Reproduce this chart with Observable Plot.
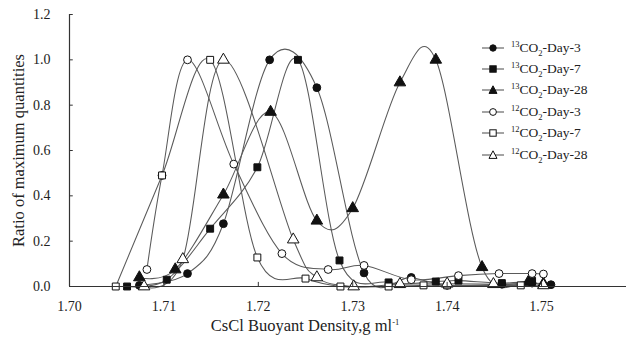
<!DOCTYPE html>
<html><head><meta charset="utf-8">
<script src="https://cdn.jsdelivr.net/npm/d3@7"></script>
<script src="https://cdn.jsdelivr.net/npm/@observablehq/plot@0.6"></script>
<style>
body{margin:0;background:#fff;}
#wrap{position:relative;width:630px;height:346px;font-family:"Liberation Serif","Times New Roman",serif;}
#legend{position:absolute;left:482px;top:37px;font-size:13.5px;color:#222;}
.row{height:21.4px;display:flex;align-items:center;white-space:nowrap;}
.row svg{margin-right:7px;}
sup,sub{font-size:8.5px;line-height:0;}
</style></head><body>
<div id="wrap"><div id="legend"></div></div>
<script>
// series names
const seriesNames = ["13CO2-Day-3","13CO2-Day-7","13CO2-Day-28","12CO2-Day-3","12CO2-Day-7","12CO2-Day-28"];
const seriesLabels = ["<sup>13</sup>CO<sub>2</sub>-Day-3","<sup>13</sup>CO<sub>2</sub>-Day-7","<sup>13</sup>CO<sub>2</sub>-Day-28","<sup>12</sup>CO<sub>2</sub>-Day-3","<sup>12</sup>CO<sub>2</sub>-Day-7","<sup>12</sup>CO<sub>2</sub>-Day-28"];
// density values (g/ml) and ratios for each series
const c13d3_x = [1.7074,1.7125,1.7163,1.7212,1.7262,1.7312,1.7362,1.7400,1.7458,1.7490,1.7510];
const c13d3_y = [0.005,0.057,0.277,1.00,0.877,0.060,0.040,0.005,0.010,0.015,0.008];
const c13d7_x = [1.7061,1.7103,1.7149,1.7199,1.7242,1.7286,1.7338,1.7388,1.7412,1.7458,1.7490];
const c13d7_y = [0.000,0.030,0.255,0.526,1.00,0.115,0.018,0.022,0.026,0.015,0.025];
const c13d28_x = [1.7074,1.7112,1.7163,1.7213,1.7262,1.7300,1.7350,1.7388,1.7437,1.7486,1.7502];
const c13d28_y = [0.040,0.075,0.405,0.770,0.290,0.345,0.900,1.00,0.085,0.020,0.012];
const c12d3_x = [1.7082,1.7098,1.7125,1.7174,1.7225,1.7274,1.7312,1.7362,1.7412,1.7455,1.7490,1.7502];
const c12d3_y = [0.075,0.490,1.00,0.540,0.145,0.075,0.093,0.030,0.048,0.057,0.057,0.055];
const c12d7_x = [1.7049,1.7098,1.7149,1.7199,1.7250,1.7287,1.7338,1.7375,1.7400,1.7478];
const c12d7_y = [0.000,0.490,1.00,0.128,0.035,0.000,0.000,0.005,0.005,0.005];
const c12d28_x = [1.7079,1.7120,1.7163,1.7237,1.7262,1.7301,1.7350,1.7400,1.7449,1.7502];
const c12d28_y = [0.000,0.120,1.00,0.207,0.040,0.000,0.010,0.012,0.010,0.005];
const xTicks = [1.70,1.71,1.72,1.73,1.74,1.75];
const yTicks = [0,0.2,0.4,0.6,0.8,1.0,1.2];
const symbols = ["circle","square","triangle","circle","square","triangle"];
const fills = ["#111","#111","#111","white","white","white"];

const xs = [c13d3_x,c13d7_x,c13d28_x,c12d3_x,c12d7_x,c12d28_x];
const ys = [c13d3_y,c13d7_y,c13d28_y,c12d3_y,c12d7_y,c12d28_y];
const data = [];
seriesNames.forEach((s,i)=>xs[i].forEach((x,j)=>data.push({series:s,i,x,y:ys[i][j]})));

const XMIN=1.70, XMAX=1.7590;
const lineColor="#5a5a5a";
const marks = [];
seriesNames.forEach((s,i)=>{
  marks.push(Plot.line(data.filter(d=>d.i===i),{x:"x",y:"y",stroke:lineColor,strokeWidth:1.05,curve:"cardinal",tension:0}));
});
seriesNames.forEach((s,i)=>{
  marks.push(Plot.dot(data.filter(d=>d.i===i),{x:"x",y:"y",symbol:()=>symbols[i],r:i%3===2?4.3:3.9,fill:fills[i],stroke:"#111",strokeWidth:1}));
});
marks.push(Plot.ruleY([0],{x1:XMIN,x2:XMAX,stroke:"#333",strokeWidth:1.2}));
marks.push(Plot.ruleX([XMIN],{y1:0,y2:1.2,stroke:"#333",strokeWidth:1.2}));
marks.push(Plot.ruleX(xTicks,{x:d=>d,y1:0,y2:0.018,stroke:"#333"}));
marks.push(Plot.ruleY(yTicks,{y:d=>d,x1:XMIN,x2:XMIN+0.0004,stroke:"#333"}));
marks.push(Plot.axisX({ticks:xTicks,tickSize:0,tickPadding:15,tickFormat:d3.format(".2f"),fontSize:14,label:null}));
marks.push(Plot.axisY({ticks:yTicks,tickSize:0,tickPadding:19,tickFormat:d3.format(".1f"),fontSize:14,label:null}));
marks.push(Plot.axisY({ticks:[],tickSize:0,fontSize:16.5,label:"Ratio of maximum quantities",labelAnchor:"center",labelArrow:"none",labelOffset:57}));

const plotRight = 69 + Math.round((XMAX-XMIN)*9440);
const chart = Plot.plot({
  width:630,height:346,
  marginLeft:69,marginRight:630-plotRight,marginTop:14,marginBottom:60,
  x:{domain:[XMIN,XMAX]},
  y:{domain:[0,1.2]},
  style:{fontFamily:"'Liberation Serif','Times New Roman',serif",fontSize:"14px",color:"#222",background:"white",overflow:"visible"},
  marks
});
document.getElementById("wrap").prepend(chart);

// x-axis title, centred on the 1.70–1.75 span like the reference
const xs0 = chart.scale("x");
const xt = document.createElement("div");
xt.style.cssText = `position:absolute;top:316px;left:0;width:${xs0.apply(1.7)+xs0.apply(1.75)}px;text-align:center;font-size:16.5px;color:#222;`;
xt.innerHTML = "CsCl Buoyant Density,g ml<sup>-1</sup>";
document.getElementById("wrap").appendChild(xt);

const leg = document.getElementById("legend");
seriesNames.forEach((s,i)=>{
  const row=document.createElement("div");row.className="row";
  let sym;
  if(symbols[i]==="circle") sym=`<circle cx="11" cy="6" r="${i<3?3.2:3.4}" fill="${fills[i]}" stroke="#111"/>`;
  else if(symbols[i]==="square") sym=`<rect x="7.8" y="2.8" width="6.4" height="6.4" fill="${fills[i]}" stroke="#111"/>`;
  else sym=`<path d="M11,1.8 L15,9.4 L7,9.4 Z" fill="${fills[i]}" stroke="#111"/>`;
  row.innerHTML=`<svg width="22" height="12"><line x1="0" x2="22" y1="6" y2="6" stroke="${lineColor}" stroke-width="1.1"/>${sym}</svg><span>${seriesLabels[i]}</span>`;
  leg.appendChild(row);
});
</script></body></html>
